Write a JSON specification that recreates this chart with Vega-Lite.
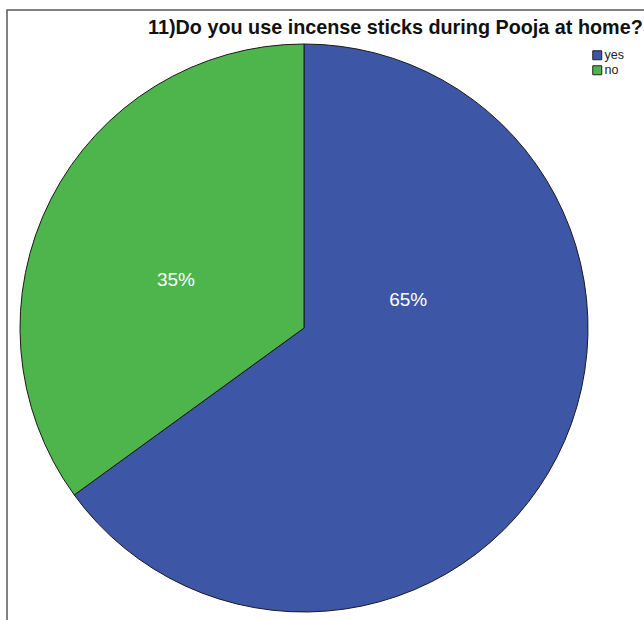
{
  "$schema": "https://vega.github.io/schema/vega-lite/v6.json",
  "width": 643,
  "height": 616,
  "autosize": {"type": "none"},
  "padding": {"left": 7, "top": 10, "right": -6, "bottom": -6},
  "background": "white",
  "config": {"view": {"stroke": null}, "font": "Liberation Sans"},
  "title": {
    "text": "11)Do you use incense sticks during Pooja at home?",
    "anchor": "end",
    "orient": "top",
    "offset": -28,
    "baseline": "alphabetic",
    "dx": -8,
    "dy": 17,
    "fontSize": 19.8,
    "fontWeight": "bold",
    "font": "Liberation Sans",
    "color": "#111"
  },
  "data": {
    "values": [
      {"response": "yes", "percent": 65, "label": "65%"},
      {"response": "no", "percent": 35, "label": "35%"}
    ]
  },
  "layer": [
    {
      "transform": [{"filter": "datum.response === 'yes'"}],
      "mark": {"type": "rect", "fill": null, "stroke": "#5a5a5a", "strokeWidth": 1.5},
      "encoding": {}
    },
    {
      "mark": {"type": "arc", "x": 297, "y": 318, "outerRadius": 284, "stroke": "#1a1a1a", "strokeWidth": 1},
      "encoding": {
        "theta": {"field": "percent", "type": "quantitative", "stack": true},
        "order": {"field": "percent", "type": "quantitative", "sort": "descending"},
        "color": {
          "field": "response",
          "type": "nominal",
          "scale": {"domain": ["yes", "no"], "range": ["#3E56A6", "#4DB54C"]},
          "legend": {
            "orient": "none",
            "legendX": 584,
            "legendY": 39,
            "title": null,
            "symbolType": "square",
            "symbolSize": 81,
            "symbolStrokeColor": "#222",
            "symbolStrokeWidth": 1,
            "symbolOpacity": 1,
            "labelFontSize": 12.5,
            "labelFont": "Liberation Sans",
            "labelColor": "#222",
            "labelOffset": 1,
            "rowPadding": 1,
            "padding": 0
          }
        }
      }
    },
    {
      "mark": {"type": "text", "x": 297, "y": 318, "radius": 108, "dx": 8, "dy": -77, "color": "white", "fontSize": 19, "font": "Liberation Sans", "align": "center", "baseline": "middle"},
      "encoding": {
        "theta": {"field": "percent", "type": "quantitative", "stack": true},
        "order": {"field": "percent", "type": "quantitative", "sort": "descending"},
        "text": {"condition": {"test": "datum.response === 'yes'", "field": "label"}, "value": ""}
      }
    },
    {
      "mark": {"type": "text", "x": 297, "y": 318, "radius": 137, "dx": -6, "dy": 14, "color": "white", "fontSize": 19, "font": "Liberation Sans", "align": "center", "baseline": "middle"},
      "encoding": {
        "theta": {"field": "percent", "type": "quantitative", "stack": true},
        "order": {"field": "percent", "type": "quantitative", "sort": "descending"},
        "text": {"condition": {"test": "datum.response === 'no'", "field": "label"}, "value": ""}
      }
    }
  ]
}
